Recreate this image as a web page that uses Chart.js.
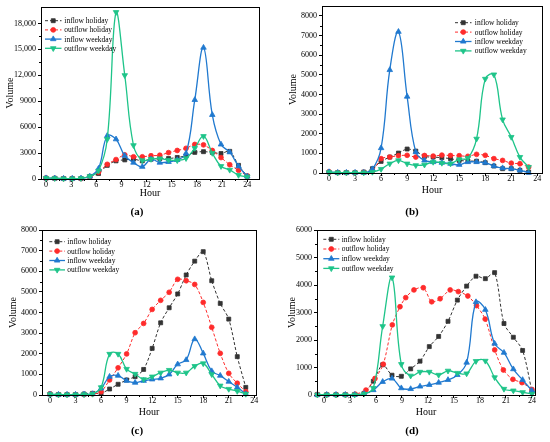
<!DOCTYPE html>
<html>
<head>
<meta charset="utf-8">
<script src="https://cdn.jsdelivr.net/npm/chart.js@4.4.1/dist/chart.umd.min.js"></script>
<style>
  html, body { margin: 0; padding: 0; background: #fff; }
  #page { position: relative; width: 550px; height: 442px; overflow: hidden; background: #fff; }
  canvas { position: absolute; }
  .plab { position: absolute; width: 60px; margin-left: -30px; text-align: center;
          font: bold 11px "Liberation Serif", "Times New Roman", serif; color: #000; }
</style>
</head>
<body>
<div id="page">
  <canvas id="ca" width="275" height="222" style="left:0;top:0;"></canvas>
  <canvas id="cb" width="275" height="222" style="left:275px;top:0;"></canvas>
  <canvas id="cc" width="275" height="227" style="left:0;top:215px;"></canvas>
  <canvas id="cd" width="275" height="227" style="left:275px;top:215px;"></canvas>
  <div class="plab" style="left:137px;top:205px;">(a)</div>
  <div class="plab" style="left:412px;top:205px;">(b)</div>
  <div class="plab" style="left:137px;top:424px;">(c)</div>
  <div class="plab" style="left:412px;top:424px;">(d)</div>
</div>
<script>
// ---------------- DATA ----------------
const seriesLabels = ['inflow holiday', 'outflow holiday', 'inflow weekday', 'outflow weekday'];

const xTickValues = [0, 3, 6, 9, 12, 15, 18, 21, 24];
const xTickLabels = ['0', '3', '6', '9', '12', '15', '18', '21', '24'];

// panel (a)
const hoursA = [0, 1.04, 2.09, 3.13, 4.17, 5.22, 6.26, 7.3, 8.35, 9.39, 10.43, 11.48, 12.52, 13.57, 14.61, 15.65, 16.7, 17.74, 18.78, 19.83, 20.87, 21.91, 22.96, 24];
const inHolA  = [100, 80, 50, 50, 50, 300, 630, 1580, 2100, 2210, 2300, 2100, 2290, 2370, 2370, 2490, 2690, 3080, 3160, 3080, 2950, 3200, 1580, 320];
const outHolA = [100, 80, 50, 50, 50, 250, 790, 1700, 2250, 2800, 2570, 2570, 2690, 2750, 3050, 3300, 3550, 4000, 3950, 3300, 2480, 1650, 1000, 350];
const inWkA   = [100, 80, 50, 50, 80, 300, 1200, 5000, 4600, 2690, 1900, 1420, 2290, 1900, 1980, 2210, 2960, 9150, 15200, 7420, 4000, 3100, 1480, 300];
const outWkA  = [100, 80, 50, 50, 80, 300, 950, 4600, 19300, 12000, 3900, 2150, 2300, 2370, 2200, 2150, 2400, 3570, 4950, 3000, 1480, 1050, 450, 260];
const yTicksA = [0, 3000, 6000, 9000, 12000, 15000, 18000];
const yLabelsA = ['0', '3000', '6000', '9000', '12,000', '15,000', '18,000'];

// panel (b)
const hoursB = [0, 1, 2, 3, 4, 5, 6, 7, 8, 9, 10, 11, 12, 13, 14, 15, 16, 17, 18, 19, 20, 21, 22, 23];
const inHolB  = [50, 20, 20, 20, 50, 220, 590, 810, 1015, 1220, 1115, 845, 810, 780, 730, 640, 610, 600, 525, 355, 220, 220, 135, 50];
const outHolB = [50, 20, 20, 20, 30, 100, 730, 810, 880, 900, 810, 890, 860, 910, 890, 880, 850, 950, 900, 730, 640, 500, 470, 300];
const inWkB   = [50, 20, 20, 20, 20, 200, 1270, 5245, 7190, 3890, 1065, 640, 560, 525, 475, 420, 560, 560, 525, 355, 250, 220, 135, 20];
const outWkB  = [30, 20, 20, 20, 20, 50, 200, 475, 640, 475, 390, 420, 560, 510, 475, 690, 760, 1740, 4790, 5010, 2720, 1830, 810, 300];
const yTicksB = [0, 1000, 2000, 3000, 4000, 5000, 6000, 7000, 8000];
const yLabelsB = ['0', '1000', '2000', '3000', '4000', '5000', '6000', '7000', '8000'];

// panel (c)
const hoursC = [0, 1, 2, 3, 4, 5, 6, 7, 8, 9, 10, 11, 12, 13, 14, 15, 16, 17, 18, 19, 20, 21, 22, 23];
const inHolC  = [50, 20, 20, 20, 50, 80, 80, 290, 520, 730, 890, 1240, 2260, 3500, 4230, 4900, 5820, 6490, 6950, 5540, 4440, 3680, 1860, 370];
const outHolC = [50, 20, 20, 20, 20, 50, 160, 730, 1320, 1990, 3020, 3470, 4150, 4590, 4980, 5610, 5540, 5360, 4490, 3280, 2020, 1050, 570, 160];
const inWkC   = [30, 20, 20, 20, 30, 50, 320, 890, 940, 690, 600, 690, 760, 810, 1000, 1490, 1700, 2710, 2020, 1160, 940, 650, 370, 50];
const outWkC  = [30, 20, 20, 20, 30, 50, 370, 1990, 1990, 1260, 1020, 760, 890, 1080, 1210, 1080, 1080, 1400, 1530, 1000, 450, 290, 190, 50];
const yTicksC = [0, 1000, 2000, 3000, 4000, 5000, 6000, 7000, 8000];
const yLabelsC = ['0', '1000', '2000', '3000', '4000', '5000', '6000', '7000', '8000'];

// panel (d)
const hoursD = [-0.77, 0.31, 1.38, 2.46, 3.54, 4.62, 5.69, 6.77, 7.85, 8.92, 10.0, 11.08, 12.15, 13.23, 14.31, 15.39, 16.46, 17.54, 18.62, 19.69, 20.77, 21.85, 22.92, 24.0];
const hoursDOut = [-0.77, 0.3, 1.4, 2.5, 3.6, 4.84, 5.88, 6.84, 7.88, 8.77, 9.43, 10.38, 11.46, 12.43, 13.4, 14.56, 15.5, 16.6, 17.6, 18.6, 19.7, 20.7, 21.8, 22.85, 24];
const inHolD  = [10, 10, 10, 10, 20, 60, 500, 1100, 720, 680, 950, 1230, 1760, 2130, 2680, 3450, 3960, 4320, 4230, 4450, 2600, 2100, 1620, 120];
const outHolD = [20, 10, 10, 10, 30, 180, 600, 1120, 2550, 3210, 3540, 3820, 3900, 3390, 3500, 3820, 3760, 3600, 3250, 2760, 1640, 910, 570, 450, 200];
const inWkD   = [10, 10, 10, 10, 10, 40, 180, 480, 600, 250, 220, 310, 370, 450, 550, 730, 1180, 3380, 3100, 1870, 1540, 940, 550, 160];
const outWkD  = [10, 10, 10, 10, 10, 40, 250, 2500, 4270, 1120, 700, 840, 840, 730, 880, 800, 780, 1230, 1240, 640, 220, 160, 100, 40];
const yTicksD = [0, 1000, 2000, 3000, 4000, 5000, 6000];
const yLabelsD = ['0', '1000', '2000', '3000', '4000', '5000', '6000'];

// ---------------- STYLE ----------------
const SERIF = '"Liberation Serif", "Times New Roman", serif';
Chart.defaults.font.family = SERIF;
Chart.defaults.color = '#000';

const STYLES = [
  { color: '#333333', pointStyle: 'rect',     radius: 2.8, dash: [3, 2], width: 1,   rot: 0,   tension: 0.3, order: 4 },
  { color: '#ff2b2b', pointStyle: 'circle',   radius: 2.4, dash: [3, 2], width: 1,   rot: 0,   tension: 0.3, order: 3 },
  { color: '#2079cf', pointStyle: 'triangle', radius: 3.2, dash: [],     width: 1.3, rot: 0,   tension: 0.4, order: 2 },
  { color: '#1ec489', pointStyle: 'triangle', radius: 3.2, dash: [],     width: 1.3, rot: 180, tension: 0.4, order: 1 }
];

function makeDataset(k, xs, ys) {
  const s = STYLES[k];
  return {
    label: seriesLabels[k],
    data: xs.map((h, i) => ({ x: h, y: ys[i] })),
    borderColor: s.color,
    backgroundColor: s.color,
    borderWidth: s.width,
    borderDash: s.dash,
    pointStyle: s.pointStyle,
    pointRadius: s.radius,
    pointRotation: s.rot,
    pointBackgroundColor: s.color,
    pointBorderColor: s.color,
    pointBorderWidth: 0.8,
    tension: s.tension,
    fill: false,
    clip: false,
    order: s.order
  };
}

// legend drawn inside the plot frame
const insetLegend = {
  id: 'insetLegend',
  afterDatasetsDraw(chart, args, o) {
    const { ctx, chartArea: a } = chart;
    ctx.save();
    ctx.font = o.fontSize + 'px ' + SERIF;
    ctx.textBaseline = 'middle';
    ctx.textAlign = 'left';
    chart.data.datasets.forEach((ds, i) => {
      const y = a.top + o.top + i * o.pitch;
      const x0 = a.left + o.left;
      ctx.strokeStyle = ds.borderColor;
      ctx.lineWidth = ds.borderWidth;
      ctx.setLineDash(ds.borderDash || []);
      ctx.beginPath(); ctx.moveTo(x0, y); ctx.lineTo(x0 + o.lineLen, y); ctx.stroke();
      ctx.setLineDash([]);
      ctx.fillStyle = ds.pointBackgroundColor;
      ctx.strokeStyle = ds.pointBorderColor;
      ctx.lineWidth = 0.8;
      Chart.helpers.drawPoint(ctx, { pointStyle: ds.pointStyle, rotation: ds.pointRotation || 0, radius: ds.pointRadius, borderWidth: 0.8 }, x0 + o.lineLen / 2, y);
      ctx.fillStyle = '#000';
      ctx.fillText(ds.label, x0 + o.lineLen + o.gap, y + 0.5);
    });
    ctx.restore();
  }
};

// full box frame + minor ticks
const framePlugin = {
  id: 'frameBox',
  afterDraw(chart) {
    const { ctx, chartArea: a, scales } = chart;
    ctx.save();
    ctx.strokeStyle = '#000';
    ctx.lineWidth = 1;
    ctx.setLineDash([]);
    ctx.strokeRect(Math.round(a.left) + 0.5, Math.round(a.top) + 0.5, Math.round(a.right - a.left), Math.round(a.bottom - a.top));
    ctx.beginPath();
    const xt = scales.x.ticks.map(t => t.value);
    for (let i = 0; i < xt.length - 1; i++) {
      const px = Math.round(scales.x.getPixelForValue((xt[i] + xt[i + 1]) / 2)) + 0.5;
      ctx.moveTo(px, a.bottom); ctx.lineTo(px, a.bottom + 2);
    }
    const yt = scales.y.ticks.map(t => t.value);
    for (let i = 0; i < yt.length - 1; i++) {
      const py = Math.round(scales.y.getPixelForValue((yt[i] + yt[i + 1]) / 2)) + 0.5;
      ctx.moveTo(a.left, py); ctx.lineTo(a.left - 2, py);
    }
    ctx.stroke();
    ctx.restore();
  }
};

function makeChart(id, cfg) {
  const datasets = cfg.series.map((s, k) => makeDataset(k, s[0], s[1]));
  return new Chart(document.getElementById(id), {
    type: 'line',
    data: { datasets },
    plugins: [insetLegend, framePlugin],
    options: {
      responsive: false,
      animation: false,
      events: [],
      layout: { padding: cfg.pad },
      plugins: {
        legend: { display: false },
        tooltip: { enabled: false },
        insetLegend: cfg.legend
      },
      scales: {
        x: {
          type: 'linear',
          min: cfg.xMin, max: cfg.xMax,
          afterBuildTicks: s => { s.ticks = xTickValues.map(v => ({ value: v })); },
          afterFit: s => { s.height = cfg.xH; },
          border: { display: false },
          grid: { display: true, drawOnChartArea: false, drawTicks: true, tickLength: 3, tickColor: '#000', tickWidth: 1 },
          ticks: {
            autoSkip: false, maxRotation: 0, padding: -1,
            font: { size: 8, lineHeight: 1 }, color: '#000',
            callback: (v, i) => xTickLabels[i]
          },
          title: { display: true, text: 'Hour', font: { size: 10, lineHeight: 1.2 }, padding: 0, color: '#000' }
        },
        y: {
          type: 'linear',
          min: 0, max: cfg.yMax,
          afterBuildTicks: s => { s.ticks = cfg.yTicks.map(v => ({ value: v })); },
          afterFit: s => { s.width = cfg.yW; },
          border: { display: false },
          grid: { display: true, drawOnChartArea: false, drawTicks: true, tickLength: 3, tickColor: '#000', tickWidth: 1 },
          ticks: {
            autoSkip: false, padding: 2,
            font: { size: 8, lineHeight: 1 }, color: '#000',
            callback: (v, i) => cfg.yLabels[i]
          },
          title: { display: true, text: 'Volume', font: { size: 10, lineHeight: 1.2 }, padding: 0, color: '#000' }
        }
      }
    }
  });
}

makeChart('ca', {
  series: [[hoursA, inHolA], [hoursA, outHolA], [hoursA, inWkA], [hoursA, outWkA]],
  xMin: -0.6, xMax: 25.4, yMax: 19900, yTicks: yTicksA, yLabels: yLabelsA,
  pad: { left: 4, top: 7, right: 16, bottom: 23 }, yW: 37, xH: 20,
  legend: { left: 4, top: 13.7, pitch: 9.2, lineLen: 16.5, gap: 2.8, fontSize: 7.5 }
});
makeChart('cb', {
  series: [[hoursB, inHolB], [hoursB, outHolB], [hoursB, inWkB], [hoursB, outWkB]],
  xMin: -0.81, xMax: 24.54, yMax: 8500, yTicks: yTicksB, yLabels: yLabelsB,
  pad: { left: 12, top: 5, right: 8, bottom: 26 }, yW: 35, xH: 23,
  legend: { left: 133, top: 16.7, pitch: 9.4, lineLen: 16.5, gap: 3.3, fontSize: 7.5 }
});
makeChart('cc', {
  series: [[hoursC, inHolC], [hoursC, outHolC], [hoursC, inWkC], [hoursC, outWkC]],
  xMin: -0.94, xMax: 24.2, yMax: 8000, yTicks: yTicksC, yLabels: yLabelsC,
  pad: { left: 7, top: 15, right: 19, bottom: 24 }, yW: 35, xH: 23,
  legend: { left: 7.3, top: 11.7, pitch: 9.4, lineLen: 15.7, gap: 2.3, fontSize: 7.5 }
});
makeChart('cd', {
  series: [[hoursD, inHolD], [hoursDOut, outHolD], [hoursD, inWkD], [hoursD, outWkD]],
  xMin: -0.81, xMax: 24.35, yMax: 6000, yTicks: yTicksD, yLabels: yLabelsD,
  pad: { left: 11, top: 15, right: 15, bottom: 24 }, yW: 31, xH: 23,
  legend: { left: 6.3, top: 9.3, pitch: 9.7, lineLen: 16, gap: 2.4, fontSize: 7.5 }
});
</script>
</body>
</html>
